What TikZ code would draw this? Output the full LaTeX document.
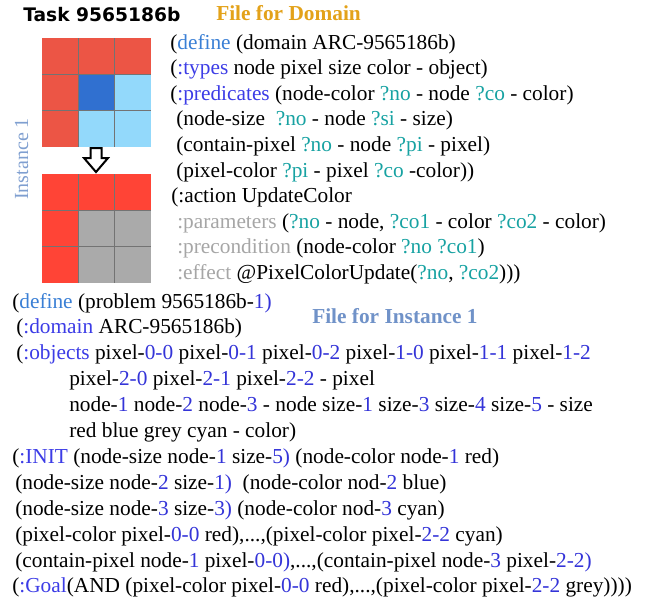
\documentclass[tikz,border=0pt]{standalone}
\usepackage{fontspec}
\usepackage{xcolor}
\usepackage{tikz}
\setmainfont{Liberation Serif}
\newfontfamily\titlefont{DejaVu Sans}

\definecolor{defblue}{HTML}{3A7FD5}
\definecolor{secblue}{HTML}{3C3CE6}
\definecolor{varteal}{HTML}{17A2A2}
\definecolor{pargrey}{HTML}{A6A6A6}
\definecolor{numblue}{HTML}{3434D8}
\definecolor{domorange}{HTML}{E3A21A}
\definecolor{instblue}{HTML}{7092C8}
\definecolor{sideblue}{HTML}{7F9FD0}
\definecolor{cellred}{HTML}{EC5545}
\definecolor{cellblue}{HTML}{3070D0}
\definecolor{cellcyan}{HTML}{93D9FB}
\definecolor{outred}{HTML}{FF4436}
\definecolor{outgrey}{HTML}{AAAAAA}

\newcommand{\kdef}[1]{\textcolor{defblue}{#1}}
\newcommand{\ksec}[1]{\textcolor{secblue}{#1}}
\newcommand{\kvar}[1]{\textcolor{varteal}{#1}}
\newcommand{\kgr}[1]{\textcolor{pargrey}{#1}}
\newcommand{\knum}[1]{\textcolor{numblue}{#1}}

\tikzset{
	pddl/.style={anchor=base west, inner sep=0pt, font=\fontsize{16}{19}\selectfont},
	gridline/.style={draw=black!55, line width=0.6pt}
}

\begin{document}
\begin{tikzpicture}[x=0.75pt,y=-0.75pt]
		\useasboundingbox (0,0) rectangle (650,601);
		
		% titles
		\node[anchor=base west, inner sep=0pt, font=\titlefont\bfseries\fontsize{14}{16}\selectfont] (task) at (23,21) {Task 9565186b};
		\node[anchor=base west, inner sep=0pt, text=domorange, font=\bfseries\fontsize{16}{19}\selectfont] (domtitle) at (216,20) {File for Domain};
		\node[anchor=base west, inner sep=0pt, text=sideblue, rotate=90, font=\fontsize{15}{18}\selectfont] (side) at (28,200) {Instance 1};
		
		% input grid
		\foreach \r/\c/\col in {0/0/cellred,0/1/cellred,0/2/cellred,1/0/cellred,1/1/cellblue,1/2/cellcyan,2/0/cellred,2/1/cellcyan,2/2/cellcyan}
		{
		\fill[\col] (42+\c*36.33,38+\r*36.33) rectangle ++(36.33,36.33);
		}
		\foreach \k in {1,2}
		{
		\draw[gridline] (42+\k*36.33,38) to (42+\k*36.33,147);
		\draw[gridline] (42,38+\k*36.33) to (151,38+\k*36.33);
		}
		
		% arrow
		\draw[line width=1.5pt, fill=white, line join=miter] (90.5,148) to (101.5,148) to (101.5,158) to (108,158) to (96,172) to (84,158) to (90.5,158) to cycle;
		
		% output grid
		\foreach \r/\c/\col in {0/0/outred,0/1/outred,0/2/outred,1/0/outred,1/1/outgrey,1/2/outgrey,2/0/outred,2/1/outgrey,2/2/outgrey}
		{
		\fill[\col] (42+\c*36.33,174+\r*36.33) rectangle ++(36.33,36.33);
		}
		\foreach \k in {1,2}
		{
		\draw[gridline] (42+\k*36.33,174) to (42+\k*36.33,283);
		\draw[gridline] (42,174+\k*36.33) to (151,174+\k*36.33);
		}
		
		% domain file
		\node[pddl] (d1) at (170,49) {(\kdef{define} (domain ARC-9565186b)};
		\node[pddl] (d2) at (170,74.6) {(\ksec{:types} node pixel size color - object)};
		\node[pddl] (d3) at (170,100.2) {(\ksec{:predicates} (node-color \kvar{?no} - node \kvar{?co} - color)};
		\node[pddl] (d4) at (176,125.8) {(node-size\ \ \kvar{?no} - node \kvar{?si} - size)};
		\node[pddl] (d5) at (176,151.4) {(contain-pixel \kvar{?no} - node \kvar{?pi} - pixel)};
		\node[pddl] (d6) at (176,177) {(pixel-color \kvar{?pi} - pixel \kvar{?co} -color))};
		\node[pddl] (d7) at (171,202.6) {(:action UpdateColor};
		\node[pddl] (d8) at (177,228.2) {\kgr{:parameters} (\kvar{?no} - node, \kvar{?co1} - color \kvar{?co2} - color)};
		\node[pddl] (d9) at (177,253.8) {\kgr{:precondition} (node-color \kvar{?no} \kvar{?co1})};
		\node[pddl] (d10) at (177,279.4) {\kgr{:effect} @PixelColorUpdate(\kvar{?no}, \kvar{?co2})))};
		
		% instance file
		\node[anchor=base west, inner sep=0pt, text=instblue, font=\bfseries\fontsize{16}{19}\selectfont] (insttitle) at (312,323) {File for Instance 1};
		\node[pddl] (p1) at (12,308) {(\kdef{define} (problem 9565186b-\knum{1)}};
		\node[pddl] (p2) at (16,333.9) {(\ksec{:domain} ARC-9565186b)};
		\node[pddl] (p3) at (16,359.8) {(\ksec{:objects} pixel-\knum{0-0} pixel-\knum{0-1} pixel-\knum{0-2} pixel-\knum{1-0} pixel-\knum{1-1} pixel-\knum{1-2}};
		\node[pddl] (p4) at (69,385.7) {pixel-\knum{2-0} pixel-\knum{2-1} pixel-\knum{2-2} - pixel};
		\node[pddl] (p5) at (69,411.6) {node-\knum{1} node-\knum{2} node-\knum{3} - node size-\knum{1} size-\knum{3} size-\knum{4} size-\knum{5} - size};
		\node[pddl] (p6) at (69,437.5) {red blue grey cyan - color)};
		\node[pddl] (p7) at (12,463.4) {(\ksec{:INIT} (node-size node-\knum{1} size-\knum{5)} (node-color node-\knum{1} red)};
		\node[pddl] (p8) at (15,489.3) {(node-size node-\knum{2} size-\knum{1)}\ \ (node-color nod-\knum{2} blue)};
		\node[pddl] (p9) at (15,515.2) {(node-size node-\knum{3} size-\knum{3)} (node-color nod-\knum{3} cyan)};
		\node[pddl] (p10) at (15,541.1) {(pixel-color pixel-\knum{0-0} red),...,(pixel-color pixel-\knum{2-2} cyan)};
		\node[pddl] (p11) at (15,567) {(contain-pixel node-\knum{1} pixel-\knum{0-0)},...,(contain-pixel node-\knum{3} pixel-\knum{2-2)}};
		\node[pddl] (p12) at (12,592.9) {(\ksec{:Goal}(AND (pixel-color pixel-\knum{0-0} red),...,(pixel-color pixel-\knum{2-2} grey))))};
	\end{tikzpicture}
\end{document}
